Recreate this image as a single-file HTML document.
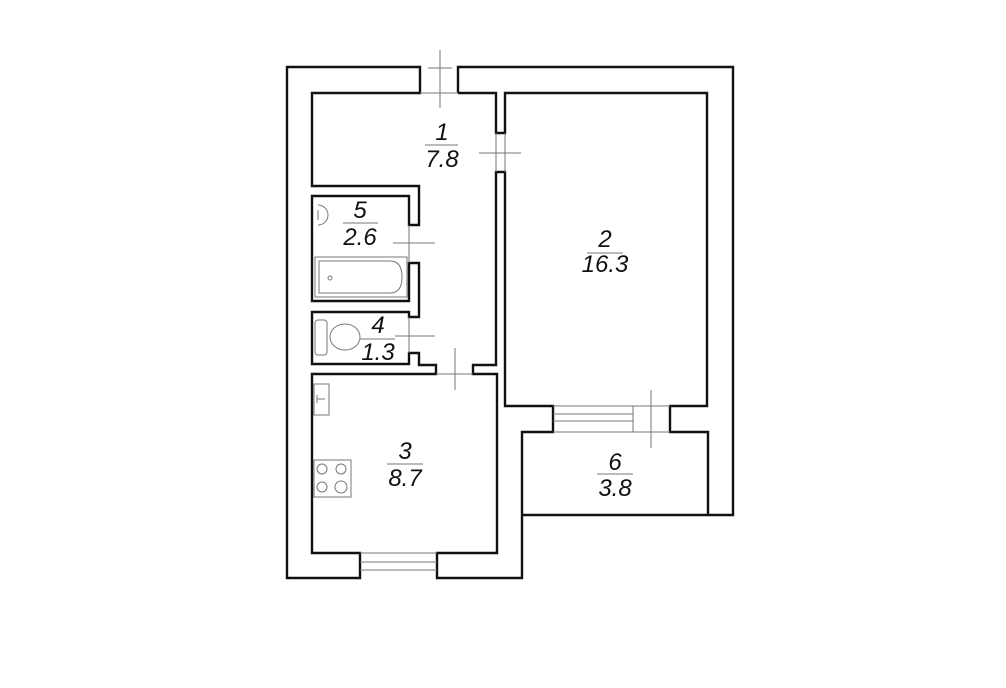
<!DOCTYPE html>
<html><head><meta charset="utf-8"><style>
html,body{margin:0;padding:0;background:#fff;}
svg{display:block}
text{font-family:"Liberation Sans",sans-serif;font-style:italic;font-size:24px;fill:#111;text-anchor:middle}
</style></head><body>
<svg width="1006" height="688" viewBox="0 0 1006 688" xmlns="http://www.w3.org/2000/svg">
<rect width="1006" height="688" fill="#fff"/>
<g fill="none" stroke="#111" stroke-width="2.4" stroke-linejoin="miter">
<path d="M420,93 L420,67 L287,67 L287,578 L360,578 L360,553 L312,553 L312,374 L436,374 L436,365 L419,365 L419,353 L409,353 L409,364 L312,364 L312,312 L409,312 L409,317 L419,317 L419,263 L409,263 L409,301 L312,301 L312,196 L409,196 L409,225 L419,225 L419,186 L312,186 L312,93 Z"/>
<path d="M437,553 L497,553 L497,374 L473,374 L473,365 L496,365 L496,172 L505,172 L505,406 L553,406 L553,432 L522,432 L522,578 L437,578 Z"/>
<path d="M458,93 L458,67 L733,67 L733,515 L522,515"/>
<path d="M458,93 L496,93 L496,133 L505,133 L505,93 L707,93 L707,406 L670,406 L670,432 L708,432 L708,515"/>
</g>
<g fill="none" stroke="#777" stroke-width="1">
<!-- windows -->
<line x1="553" y1="414" x2="633" y2="414"/><line x1="553" y1="421" x2="633" y2="421"/>
<line x1="553" y1="406" x2="670" y2="406"/><line x1="553" y1="432" x2="670" y2="432"/>
<line x1="633" y1="406" x2="633" y2="432"/>
<line x1="360" y1="553" x2="437" y2="553"/><line x1="360" y1="562" x2="437" y2="562"/><line x1="360" y1="570" x2="437" y2="570"/>
<!-- door openings -->
<line x1="420" y1="93" x2="458" y2="93"/>
<line x1="496" y1="133" x2="496" y2="172"/><line x1="505" y1="133" x2="505" y2="172"/>
<line x1="409" y1="225" x2="409" y2="263"/><line x1="409" y1="317" x2="409" y2="353"/>
<line x1="436" y1="374" x2="473" y2="374"/>
<!-- crosshairs -->
<line x1="440" y1="50" x2="440" y2="108"/><line x1="428" y1="68" x2="452" y2="68"/>
<line x1="479" y1="153" x2="521" y2="153"/>
<line x1="393" y1="243" x2="435" y2="243"/>
<line x1="395" y1="336" x2="435" y2="336"/>
<line x1="455" y1="348" x2="455" y2="390"/>
<line x1="651" y1="390" x2="651" y2="448"/>
<!-- dividers -->
<line x1="425" y1="145" x2="458" y2="145"/>
<line x1="343" y1="223" x2="378" y2="223"/>
<line x1="360" y1="339" x2="395" y2="339"/>
<line x1="387" y1="464" x2="423" y2="464"/>
<line x1="597" y1="474" x2="633" y2="474"/>
<line x1="587" y1="253" x2="623" y2="253"/>
<!-- fixtures -->
<rect x="315" y="257" width="92" height="40"/>
<path d="M319,261 L390,261 Q402,261 402,277 Q402,293 390,293 L319,293 Z"/>
<circle cx="330" cy="278" r="2"/>
<path d="M318,205 A10,10 0 0 1 318,225"/><line x1="318" y1="210" x2="318" y2="220"/>
<rect x="315" y="320" width="12" height="35" rx="3"/>
<ellipse cx="345" cy="337" rx="15" ry="13"/>
<rect x="314" y="384" width="15" height="31"/><line x1="317" y1="399" x2="325" y2="399"/><line x1="317" y1="395" x2="317" y2="403"/>
<rect x="314" y="460" width="37" height="37"/>
<circle cx="322" cy="469" r="5"/><circle cx="341" cy="469" r="5"/><circle cx="322" cy="487" r="5"/><circle cx="341" cy="487" r="6"/>
</g>
<text x="442" y="140">1</text><text x="442" y="167">7.8</text>
<text x="605" y="247">2</text><text x="605" y="272">16.3</text>
<text x="360" y="218">5</text><text x="360" y="245">2.6</text>
<text x="378" y="333">4</text><text x="378" y="360">1.3</text>
<text x="405" y="459">3</text><text x="405" y="486">8.7</text>
<text x="615" y="470">6</text><text x="615" y="496">3.8</text>
</svg>
</body></html>
